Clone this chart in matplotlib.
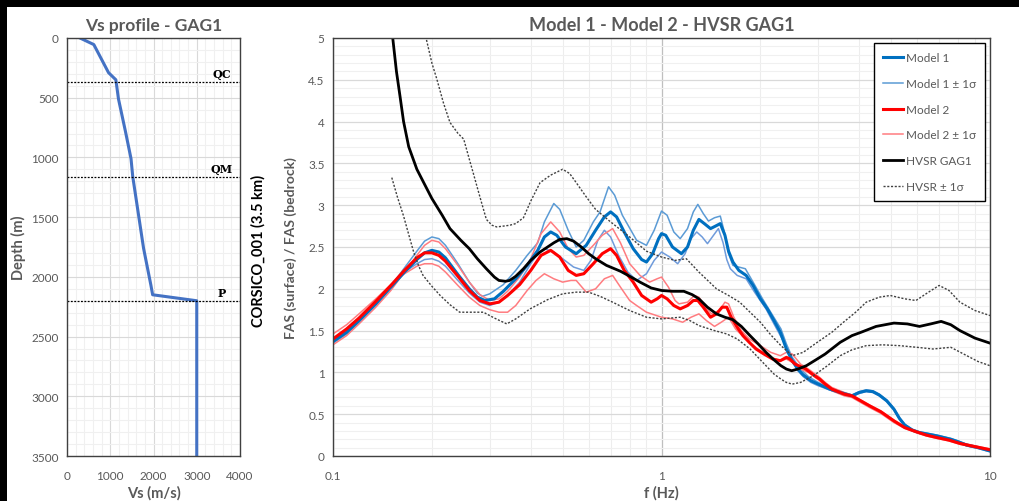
import numpy as np
import matplotlib
matplotlib.use('Agg')
import matplotlib.pyplot as plt
from matplotlib.patches import Rectangle
from matplotlib.ticker import MultipleLocator, FixedLocator, NullFormatter

plt.rcParams['font.family'] = ['Lato', 'DejaVu Sans']

GREY = '#595959'

# --- Vs profile ---
vs = [300, 620, 960, 1130, 1190, 1350, 1480, 1520, 1770, 1940, 1980, 3000, 3000]
depth = [0, 55, 290, 350, 510, 780, 1010, 1160, 1760, 2070, 2150, 2200, 3500]
horizons = ['QC', 'QM', 'P']
horizon_depth = [365, 1165, 2205]

# --- spectral ratios ---
m1_f = [0.1, 0.11, 0.12, 0.135, 0.15, 0.165, 0.18, 0.19, 0.2, 0.21, 0.22, 0.24, 0.26, 0.275, 0.29,
        0.31, 0.33, 0.36, 0.39, 0.42, 0.44, 0.46, 0.48, 0.51, 0.55, 0.59, 0.63, 0.67, 0.70, 0.73,
        0.77, 0.82, 0.87, 0.9, 0.94, 0.98, 1.0, 1.03, 1.08, 1.15, 1.2, 1.25, 1.3, 1.35, 1.41, 1.46,
        1.51, 1.56, 1.6, 1.65, 1.72, 1.81, 1.9, 2.0, 2.1, 2.2, 2.3, 2.4, 2.5, 2.6, 2.7, 2.85, 3.0,
        3.25, 3.5, 3.8, 4.0, 4.2, 4.4, 4.6, 4.85, 5.1, 5.3, 5.5, 5.8, 6.1, 6.5, 6.9, 7.6, 8.0, 8.5,
        9.2, 10]
m1_v = [1.37, 1.48, 1.62, 1.82, 2.02, 2.20, 2.35, 2.43, 2.46, 2.44, 2.37, 2.17, 2.00, 1.90, 1.86,
        1.88, 1.97, 2.12, 2.28, 2.46, 2.62, 2.68, 2.64, 2.50, 2.42, 2.52, 2.70, 2.86, 2.92, 2.86,
        2.68, 2.48, 2.35, 2.32, 2.42, 2.60, 2.66, 2.64, 2.50, 2.42, 2.50, 2.70, 2.83, 2.78, 2.72, 2.75,
        2.78, 2.64, 2.45, 2.32, 2.22, 2.16, 2.04, 1.88, 1.76, 1.62, 1.48, 1.28, 1.14, 1.04, 0.97, 0.90, 0.86,
        0.80, 0.76, 0.72, 0.76, 0.78, 0.77, 0.73, 0.66, 0.56, 0.45, 0.37, 0.31, 0.28, 0.26, 0.24, 0.20, 0.17, 0.13,
        0.10, 0.06]

m1_up_f = [0.1, 0.11, 0.12, 0.135, 0.15, 0.165, 0.18, 0.19, 0.2, 0.21, 0.22, 0.24, 0.26, 0.275, 0.285,
           0.30, 0.33, 0.36, 0.39, 0.42, 0.44, 0.47, 0.49, 0.52, 0.55, 0.58, 0.62, 0.65, 0.69, 0.72,
           0.76, 0.84, 0.9, 0.95, 1.0, 1.04, 1.09, 1.14, 1.2, 1.25, 1.29, 1.34, 1.39, 1.45, 1.51,
           1.56, 1.6, 1.65, 1.72, 1.8, 1.9, 2.03, 2.15, 2.31, 2.4, 2.5, 2.65, 2.8, 3.0,
           3.25, 3.5, 3.8, 4.0, 4.2, 4.4, 4.6, 4.85, 5.1, 5.3, 5.5, 5.8, 6.1, 6.5, 6.9, 7.6, 8.0, 8.5,
           9.2, 10]
m1_up_v = [1.35, 1.46, 1.60, 1.81, 2.03, 2.25, 2.45, 2.57, 2.62, 2.60, 2.52, 2.30, 2.08, 1.95, 1.91,
           1.94, 2.05, 2.22, 2.40, 2.55, 2.80, 3.02, 2.95, 2.70, 2.50, 2.58, 2.80, 2.92, 3.22, 3.12,
           2.88, 2.58, 2.52, 2.70, 2.93, 2.88, 2.68, 2.60, 2.72, 2.92, 3.01, 2.90, 2.81, 2.85, 2.87,
           2.65, 2.42, 2.28, 2.26, 2.24, 2.08, 1.88, 1.72, 1.52, 1.34, 1.18, 1.04, 0.95, 0.88,
           0.81, 0.77, 0.73, 0.77, 0.79, 0.78, 0.74, 0.67, 0.57, 0.46, 0.38, 0.32, 0.29, 0.27, 0.25, 0.21, 0.18, 0.14,
           0.11, 0.07]

m1_lo_f = [0.1, 0.11, 0.12, 0.135, 0.15, 0.165, 0.18, 0.19, 0.2, 0.21, 0.22, 0.24, 0.26, 0.28, 0.30,
           0.32, 0.34, 0.37, 0.40, 0.42, 0.44, 0.47, 0.5, 0.54, 0.58, 0.61, 0.64, 0.67, 0.70, 0.74,
           0.79, 0.84, 0.9, 0.95, 1.0, 1.06, 1.12, 1.18, 1.23, 1.28, 1.33, 1.38, 1.44, 1.49, 1.54,
           1.58, 1.62, 1.7, 1.81, 1.92, 2.08, 2.2, 2.36, 2.5, 2.6, 2.7, 2.85, 3.0,
           3.25, 3.5, 3.8, 4.0, 4.2, 4.4, 4.6, 4.85, 5.1, 5.3, 5.5, 5.8, 6.1, 6.5, 6.9, 7.6, 8.0, 8.5,
           9.2, 10]
m1_lo_v = [1.38, 1.50, 1.64, 1.84, 2.04, 2.20, 2.30, 2.35, 2.36, 2.33, 2.27, 2.10, 1.95, 1.84, 1.80,
           1.84, 1.92, 2.08, 2.30, 2.42, 2.48, 2.44, 2.36, 2.26, 2.22, 2.34, 2.58, 2.70, 2.62, 2.40,
           2.20, 2.10, 2.18, 2.34, 2.44, 2.38, 2.30, 2.42, 2.60, 2.68, 2.62, 2.54, 2.64, 2.72, 2.55,
           2.35, 2.24, 2.16, 2.12, 1.96, 1.76, 1.58, 1.36, 1.14, 1.02, 0.95, 0.88, 0.84,
           0.79, 0.75, 0.71, 0.75, 0.77, 0.76, 0.72, 0.65, 0.55, 0.44, 0.36, 0.30, 0.27, 0.25, 0.23, 0.19, 0.16, 0.12,
           0.09, 0.05]

m2_f = [0.1, 0.11, 0.12, 0.135, 0.15, 0.165, 0.18, 0.19, 0.2, 0.21, 0.22, 0.24, 0.26, 0.28, 0.30,
        0.32, 0.34, 0.37, 0.40, 0.43, 0.46, 0.49, 0.52, 0.55, 0.58, 0.62, 0.66, 0.70, 0.73, 0.77,
        0.82, 0.87, 0.93, 0.97, 1.0, 1.04, 1.09, 1.14, 1.2, 1.25, 1.29, 1.34, 1.41, 1.47, 1.53, 1.58,
        1.63, 1.7, 1.77, 1.85, 1.94, 2.05, 2.18, 2.3, 2.4, 2.46, 2.55, 2.65, 2.75, 2.9, 3.03, 3.15,
        3.3, 3.6, 3.8, 4.0, 4.3, 4.65, 5.1, 5.5, 5.96, 6.4, 6.9, 7.5, 8.1, 8.8, 10]
m2_v = [1.40, 1.52, 1.65, 1.85, 2.04, 2.22, 2.37, 2.43, 2.43, 2.40, 2.33, 2.15, 1.98, 1.86, 1.82,
        1.84, 1.92, 2.05, 2.22, 2.40, 2.46, 2.38, 2.22, 2.16, 2.18, 2.30, 2.42, 2.48, 2.40, 2.22,
        2.08, 1.92, 1.84, 1.88, 1.92, 1.88, 1.80, 1.76, 1.80, 1.86, 1.86, 1.78, 1.66, 1.70, 1.78, 1.78,
        1.66, 1.54, 1.44, 1.36, 1.28, 1.22, 1.16, 1.14, 1.18, 1.16, 1.10, 1.07, 1.04, 0.97, 0.92, 0.86,
        0.80, 0.74, 0.72, 0.67, 0.60, 0.53, 0.42, 0.34, 0.29, 0.25, 0.22, 0.19, 0.15, 0.12, 0.075]

m2_up_f = [0.1, 0.11, 0.12, 0.135, 0.15, 0.165, 0.18, 0.19, 0.2, 0.21, 0.22, 0.24, 0.26, 0.28, 0.30,
           0.32, 0.34, 0.37, 0.40, 0.43, 0.46, 0.49, 0.52, 0.55, 0.58, 0.62, 0.66, 0.71, 0.75, 0.8,
           0.86, 0.92, 0.97, 1.0, 1.05, 1.1, 1.13, 1.2, 1.26, 1.3, 1.36, 1.42, 1.5, 1.56, 1.6, 1.66,
           1.75, 1.85, 2.0, 2.15, 2.3, 2.4, 2.5, 2.65, 2.8, 3.03, 3.15,
           3.3, 3.6, 3.8, 4.0, 4.3, 4.65, 5.1, 5.5, 5.96, 6.4, 6.9, 7.5, 8.1, 8.8, 10]
m2_up_v = [1.33, 1.44, 1.58, 1.78, 1.98, 2.20, 2.40, 2.52, 2.58, 2.56, 2.48, 2.28, 2.08, 1.93, 1.86,
           1.88, 1.97, 2.14, 2.36, 2.66, 2.80, 2.68, 2.48, 2.38, 2.40, 2.52, 2.64, 2.72, 2.55, 2.30,
           2.16, 2.08, 2.12, 2.14, 2.02, 1.86, 1.82, 1.84, 1.92, 1.90, 1.78, 1.70, 1.74, 1.84, 1.82, 1.66,
           1.50, 1.40, 1.32, 1.24, 1.20, 1.24, 1.22, 1.10, 1.04, 0.94, 0.88,
           0.82, 0.76, 0.73, 0.68, 0.61, 0.54, 0.43, 0.35, 0.30, 0.26, 0.23, 0.20, 0.16, 0.13, 0.085]

m2_lo_f = [0.1, 0.11, 0.12, 0.135, 0.15, 0.165, 0.18, 0.19, 0.2, 0.21, 0.22, 0.24, 0.26, 0.28, 0.30,
           0.32, 0.34, 0.36, 0.39, 0.415, 0.44, 0.47, 0.5, 0.53, 0.55, 0.59, 0.63, 0.67, 0.71, 0.75,
           0.8, 0.84, 0.9, 1.0, 1.08, 1.16, 1.23, 1.3, 1.37, 1.45, 1.52, 1.6, 1.68, 1.8, 1.9, 2.0,
           2.15, 2.3, 2.4, 2.5, 2.65, 2.8, 3.03, 3.15,
           3.3, 3.6, 3.8, 4.0, 4.3, 4.65, 5.1, 5.5, 5.96, 6.4, 6.9, 7.5, 8.1, 8.8, 10]
m2_lo_v = [1.46, 1.57, 1.70, 1.88, 2.05, 2.18, 2.27, 2.30, 2.30, 2.27, 2.20, 2.04, 1.90, 1.80, 1.75,
           1.72, 1.72, 1.80, 1.98, 2.10, 2.18, 2.12, 2.08, 2.10, 2.10, 1.96, 2.00, 2.12, 2.16, 2.02,
           1.86, 1.80, 1.72, 1.66, 1.64, 1.60, 1.66, 1.70, 1.62, 1.55, 1.60, 1.66, 1.52, 1.40, 1.32, 1.26,
           1.18, 1.14, 1.16, 1.12, 1.04, 1.00, 0.90, 0.84,
           0.78, 0.72, 0.70, 0.65, 0.58, 0.51, 0.40, 0.33, 0.28, 0.24, 0.21, 0.18, 0.14, 0.11, 0.065]

hv_f = [0.15, 0.152, 0.156, 0.16, 0.164, 0.17, 0.18, 0.19, 0.2, 0.215, 0.227, 0.245, 0.26, 0.275,
        0.293, 0.31, 0.32, 0.335, 0.345, 0.36, 0.38, 0.40, 0.427, 0.45, 0.47, 0.49, 0.515, 0.54,
        0.57, 0.6, 0.63, 0.68, 0.75, 0.8, 0.86, 0.93, 1.0, 1.08, 1.17, 1.24, 1.3, 1.38, 1.47, 1.56,
        1.65, 1.75, 1.86, 1.97, 2.08, 2.2, 2.31, 2.4, 2.49, 2.6, 2.76, 2.95, 3.15, 3.5, 3.8, 4.05,
        4.5, 5.1, 5.6, 6.1, 6.6, 7.1, 7.6, 8.1, 9, 10]
hv_v = [5.3, 5.0, 4.6, 4.3, 4.0, 3.7, 3.43, 3.25, 3.08, 2.88, 2.72, 2.58, 2.48, 2.36,
        2.24, 2.14, 2.10, 2.09, 2.10, 2.15, 2.24, 2.34, 2.44, 2.50, 2.55, 2.59, 2.60, 2.57,
        2.50, 2.42, 2.36, 2.28, 2.21, 2.15, 2.08, 2.01, 1.98, 1.97, 1.97, 1.93, 1.88, 1.78, 1.70, 1.66,
        1.63, 1.55, 1.44, 1.34, 1.24, 1.15, 1.08, 1.04, 1.02, 1.04, 1.08, 1.15, 1.22, 1.36, 1.44, 1.48,
        1.55, 1.59, 1.58, 1.55, 1.58, 1.61, 1.57, 1.50, 1.41, 1.35]

hv_up_f = [0.19, 0.192, 0.2, 0.207, 0.217, 0.227, 0.24, 0.25, 0.26, 0.267, 0.28, 0.293, 0.305, 0.315,
           0.33, 0.345, 0.36, 0.38, 0.40, 0.427, 0.46, 0.5, 0.525, 0.55, 0.59, 0.63, 0.7, 0.8, 0.9,
           1.0, 1.1, 1.19, 1.3, 1.47, 1.6, 1.73, 1.86, 2.0, 2.15, 2.31, 2.5, 2.7, 2.98, 3.3, 3.58,
           3.9, 4.2, 4.6, 4.97, 5.5, 5.95, 6.5, 7.0, 7.5, 8.1, 9, 10]
hv_up_v = [5.2, 5.0, 4.7, 4.51, 4.22, 3.99, 3.86, 3.79, 3.55, 3.39, 3.10, 2.83, 2.76, 2.74,
           2.75, 2.76, 2.78, 2.85, 3.05, 3.27, 3.36, 3.43, 3.38, 3.27, 3.10, 2.95, 2.80, 2.62, 2.45,
           2.38, 2.34, 2.36, 2.20, 2.00, 1.92, 1.84, 1.72, 1.60, 1.45, 1.32, 1.20, 1.24, 1.36, 1.48, 1.60,
           1.72, 1.84, 1.90, 1.92, 1.88, 1.86, 1.96, 2.04, 1.98, 1.84, 1.74, 1.68]

hv_lo_f = [0.151, 0.157, 0.164, 0.17, 0.176, 0.182, 0.188, 0.2, 0.212, 0.227, 0.243, 0.265, 0.287,
           0.31, 0.338, 0.36, 0.398, 0.45, 0.5, 0.55, 0.6, 0.65, 0.71, 0.8, 0.9, 1.0, 1.14, 1.22,
           1.3, 1.45, 1.58, 1.7, 1.86, 2.0, 2.08, 2.2, 2.31, 2.4, 2.5, 2.65, 2.9, 3.2, 3.5, 3.8,
           4.2, 4.7, 5.3, 6.0, 6.7, 7.6, 8.5, 9.2, 10]
hv_lo_v = [3.33, 3.10, 2.87, 2.65, 2.44, 2.28, 2.16, 2.03, 1.92, 1.81, 1.72, 1.72, 1.72,
           1.65, 1.58, 1.64, 1.76, 1.87, 1.94, 1.96, 1.96, 1.91, 1.84, 1.74, 1.66, 1.64, 1.66, 1.62,
           1.56, 1.50, 1.46, 1.40, 1.28, 1.15, 1.08, 0.98, 0.92, 0.88, 0.86, 0.88, 0.96, 1.08, 1.20, 1.27,
           1.32, 1.33, 1.32, 1.30, 1.28, 1.30, 1.20, 1.13, 1.08]

# --- figure ---
fig = plt.figure(figsize=(10.19, 5.02), dpi=100, facecolor='white')
# black strips on the top and left edges of the screenshot
fig.patches.append(Rectangle((0, (502 - 8) / 502), 1, 8 / 502, transform=fig.transFigure,
                             facecolor='black', edgecolor='none'))
fig.patches.append(Rectangle((0, 0), 7 / 1019, 1, transform=fig.transFigure,
                             facecolor='black', edgecolor='none'))

ax = fig.add_axes([67 / 1019, 45 / 502, 173 / 1019, 418 / 502])
ax1 = fig.add_axes([333 / 1019, 45 / 502, 657 / 1019, 418 / 502])

for a in (ax, ax1):
    for s in a.spines.values():
        s.set_color('#404040')
        s.set_linewidth(1.0)
    a.tick_params(which='both', length=0, labelsize=8.5, colors=GREY, pad=6)
    a.set_axisbelow(True)

# left panel: Vs profile
ax.plot(vs, depth, color='#4472C4', lw=2.2, solid_joinstyle='round')
for name, d in zip(horizons, horizon_depth):
    ax.axhline(d, color='black', lw=0.9, ls=(0, (1.5, 1.2)))
    ax.text(3580, d - 25, name, fontsize=8, fontweight='bold', fontfamily='DejaVu Serif',
            ha='center', va='bottom')
ax.set_xlim(0, 4000)
ax.set_ylim(3500, 0)
ax.xaxis.set_major_locator(MultipleLocator(1000))
ax.xaxis.set_minor_locator(MultipleLocator(200))
ax.yaxis.set_major_locator(MultipleLocator(500))
ax.yaxis.set_minor_locator(MultipleLocator(100))
ax.grid(which='major', color='#D9D9D9', lw=0.8)
ax.grid(which='minor', color='#F0F0F0', lw=0.8)
ax.tick_params(axis='x', pad=10)
ax.set_title('Vs profile - GAG1', fontsize=12.5, fontweight='bold', color=GREY, pad=6)
ax.set_xlabel('Vs (m/s)', fontsize=10.5, fontweight='bold', color=GREY, labelpad=3)
ax.set_ylabel('Depth (m)', fontsize=10.5, fontweight='bold', color=GREY, labelpad=4)

fig.text(258 / 1019, 0.5, 'CORSICO_001 (3.5 km)', rotation=90, fontsize=10.5, fontweight='bold',
         ha='center', va='center', color='black')

# right panel: spectral ratios
c1, c1s = '#0070C0', '#5B9BD5'
c2, c2s = '#FF0000', '#FF7C80'
ax1.plot(m1_up_f, m1_up_v, color=c1s, lw=1.1, label='Model 1 ± 1σ')
ax1.plot(m1_lo_f, m1_lo_v, color='#6F9BDB', lw=1.1)
ax1.plot(m2_up_f, m2_up_v, color=c2s, lw=1.1, label='Model 2 ± 1σ')
ax1.plot(m2_lo_f, m2_lo_v, color=c2s, lw=1.1)
ax1.plot(m1_f, m1_v, color=c1, lw=2.2, label='Model 1')
ax1.plot(m2_f, m2_v, color=c2, lw=2.2, label='Model 2')
ax1.plot(hv_f, hv_v, color='black', lw=2.0, label='HVSR GAG1')
ax1.plot(hv_up_f, hv_up_v, color='#404040', lw=1.0, ls=(0, (1.5, 1.2)), label='HVSR ± 1σ')
ax1.plot(hv_lo_f, hv_lo_v, color='#404040', lw=1.0, ls=(0, (1.5, 1.2)))

ax1.set_xscale('log')
ax1.set_xlim(0.1, 10)
ax1.set_ylim(0, 5)
ax1.xaxis.set_major_locator(FixedLocator([0.1, 1, 10]))
ax1.xaxis.set_minor_locator(FixedLocator([k * 10.0 ** e for e in (-1, 0) for k in range(2, 10)]))
ax1.xaxis.set_minor_formatter(NullFormatter())
ax1.set_xticklabels(['0.1', '1', '10'])
ax1.yaxis.set_major_locator(MultipleLocator(0.5))
ax1.yaxis.set_minor_locator(MultipleLocator(0.1))
ax1.yaxis.set_major_formatter(plt.FuncFormatter(lambda v, p: f'{v:g}'))
ax1.grid(which='major', axis='y', color='#D9D9D9', lw=0.9)
ax1.grid(which='minor', axis='y', color='#F0F0F0', lw=0.8)
ax1.grid(which='major', axis='x', color='#BFBFBF', lw=0.9)
ax1.grid(which='minor', axis='x', color='#EDEDED', lw=0.8)
ax1.tick_params(axis='x', pad=10)
ax1.set_title('Model 1 - Model 2 - HVSR GAG1', fontsize=13, fontweight='bold', color=GREY, pad=6)
ax1.set_xlabel('f (Hz)', fontsize=10.5, fontweight='bold', color=GREY, labelpad=3)
ax1.set_ylabel('FAS (surface) / FAS (bedrock)', fontsize=10, fontweight='bold', color=GREY, labelpad=8)

handles, labels = ax1.get_legend_handles_labels()
order = ['Model 1', 'Model 1 ± 1σ', 'Model 2', 'Model 2 ± 1σ', 'HVSR GAG1', 'HVSR ± 1σ']
hmap = dict(zip(labels, handles))
leg = ax1.legend([hmap[k] for k in order], order, loc='upper right', fontsize=8.5,
                 labelspacing=1.25, handlelength=1.7, handletextpad=0.2, borderaxespad=0.4,
                 fancybox=False, framealpha=1, edgecolor='black', borderpad=0.8)
leg.get_frame().set_linewidth(1.0)
for t in leg.get_texts():
    t.set_color(GREY)

fig.savefig('out.png', dpi=100, facecolor=fig.get_facecolor())
